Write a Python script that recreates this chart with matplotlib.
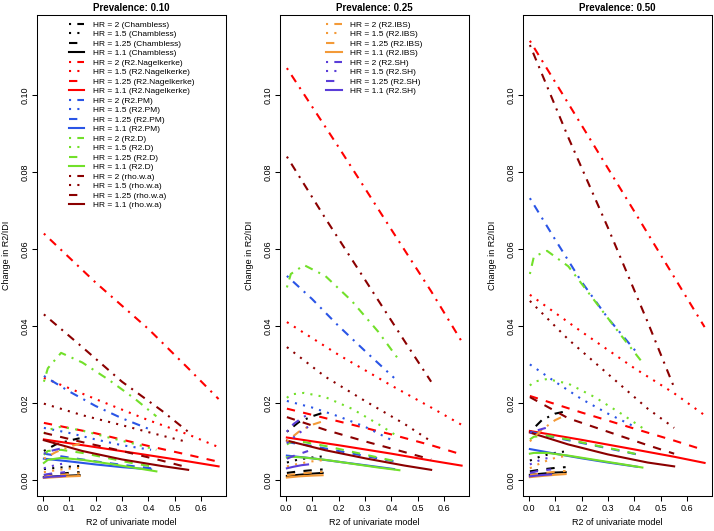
import matplotlib
matplotlib.use("Agg")
import matplotlib.pyplot as plt

plt.rcParams['font.family'] = ['Liberation Sans', 'DejaVu Sans']

# ---- data -------------------------------------------------------------
prevalences = ["0.10", "0.25", "0.50"]
hr_values = ["2", "1.5", "1.25", "1.1"]
methods = ["Chambless", "R2.Nagelkerke", "R2.PM", "R2.D", "rho.w.a", "R2.IBS", "R2.SH"]

# x (R2 of univariate model) for each method
x_chambless = [0.005, 0.05, 0.10, 0.14]
x_nagelkerke = [0.005, 0.2, 0.4, 0.55, 0.665]
x_pm = [0.005, 0.1, 0.2, 0.3, 0.41]
x_d = [0.005, 0.02, 0.07, 0.15, 0.25, 0.35, 0.43]
x_rho = [0.005, 0.15, 0.3, 0.45, 0.55]
x_ibs = [0.005, 0.05, 0.10, 0.14]
x_sh = [0.005, 0.03, 0.06, 0.085]

# change in R2/IDI, rows are HR = 2, 1.5, 1.25, 1.1
# prevalence 0.10
p10_chambless = [[0.0075, 0.0092, 0.0102, 0.0108], [0.0028, 0.0031, 0.0034, 0.0036],
                 [0.0012, 0.0015, 0.0018, 0.0020], [0.0007, 0.0009, 0.0011, 0.0012]]
p10_nagelkerke = [[0.064, 0.0513, 0.0392, 0.029, 0.021], [0.0265, 0.021, 0.0155, 0.0118, 0.0085],
                  [0.0148, 0.0121, 0.0088, 0.0065, 0.0047], [0.0105, 0.0085, 0.0064, 0.0048, 0.0035]]
p10_pm = [[0.027, 0.023, 0.0192, 0.016, 0.013], [0.0135, 0.0122, 0.0105, 0.009, 0.0078],
          [0.0068, 0.0058, 0.0048, 0.0039, 0.0030], [0.0055, 0.0048, 0.0040, 0.0033, 0.0027]]
p10_d = [[0.0255, 0.029, 0.033, 0.0305, 0.026, 0.021, 0.0165],
         [0.012, 0.013, 0.0138, 0.0128, 0.011, 0.0093, 0.0078],
         [0.0065, 0.0075, 0.0078, 0.0070, 0.0056, 0.0042, 0.0033],
         [0.0044, 0.0052, 0.0057, 0.0052, 0.0042, 0.0031, 0.0022]]
p10_rho = [[0.043, 0.0345, 0.0255, 0.018, 0.0125], [0.0198, 0.0168, 0.0142, 0.0115, 0.0098],
           [0.0122, 0.0098, 0.0075, 0.0050, 0.0032], [0.0103, 0.0075, 0.0053, 0.0036, 0.0026]]
p10_ibs = [[0.0055, 0.0072, 0.0086, 0.0094], [0.0020, 0.0025, 0.0029, 0.0031],
           [0.0009, 0.0012, 0.0015, 0.0017], [0.0005, 0.0007, 0.0009, 0.0010]]
p10_sh = [[0.0068, 0.0075, 0.0080, 0.0083], [0.0030, 0.0035, 0.0040, 0.0043],
          [0.0013, 0.0016, 0.0018, 0.0020], [0.0006, 0.0008, 0.0009, 0.0010]]

# prevalence 0.25
p25_chambless = [[0.0125, 0.0150, 0.0165, 0.0174], [0.0045, 0.0053, 0.0058, 0.0061],
                 [0.0018, 0.0022, 0.0025, 0.0027], [0.0010, 0.0013, 0.0016, 0.0018]]
p25_nagelkerke = [[0.107, 0.0865, 0.065, 0.049, 0.036], [0.041, 0.0325, 0.0245, 0.0188, 0.0143],
                  [0.0185, 0.0152, 0.0118, 0.0090, 0.0066], [0.0110, 0.0090, 0.0068, 0.0050, 0.0037]]
p25_pm = [[0.053, 0.047, 0.040, 0.0335, 0.0265], [0.0205, 0.0188, 0.0165, 0.0138, 0.0100],
          [0.0098, 0.0088, 0.0075, 0.0062, 0.0048], [0.0063, 0.0056, 0.0047, 0.0038, 0.0028]]
p25_d = [[0.050, 0.0535, 0.0558, 0.053, 0.0465, 0.0385, 0.031],
         [0.0213, 0.0222, 0.0226, 0.0215, 0.0185, 0.0145, 0.0110],
         [0.0092, 0.0098, 0.0098, 0.0088, 0.0073, 0.0058, 0.0046],
         [0.0058, 0.0060, 0.0058, 0.0052, 0.0042, 0.0032, 0.0025]]
p25_rho = [[0.084, 0.068, 0.052, 0.036, 0.0255], [0.0345, 0.0268, 0.0205, 0.0145, 0.0100],
           [0.0163, 0.0130, 0.0100, 0.0072, 0.0053], [0.0102, 0.0077, 0.0056, 0.0037, 0.0026]]
p25_ibs = [[0.0100, 0.0125, 0.0143, 0.0152], [0.0035, 0.0042, 0.0048, 0.0051],
           [0.0012, 0.0016, 0.0019, 0.0021], [0.0006, 0.0009, 0.0011, 0.0012]]
p25_sh = [[0.0125, 0.0145, 0.0160, 0.0170], [0.0095, 0.0110, 0.0126, 0.0138],
          [0.0055, 0.0062, 0.0069, 0.0075], [0.0030, 0.0034, 0.0038, 0.0040]]

# prevalence 0.50
p50_chambless = [[0.0124, 0.0155, 0.0172, 0.0178], [0.0050, 0.0062, 0.0070, 0.0074],
                 [0.0022, 0.0027, 0.0031, 0.0033], [0.0013, 0.0016, 0.0019, 0.0020]]
p50_nagelkerke = [[0.1141, 0.0922, 0.0697, 0.0527, 0.0397], [0.0481, 0.0385, 0.029, 0.0225, 0.0168],
                  [0.0218, 0.0175, 0.0133, 0.0102, 0.0077], [0.0127, 0.0104, 0.0079, 0.0060, 0.0044]]
p50_pm = [[0.0732, 0.0625, 0.0515, 0.042, 0.033], [0.030, 0.0255, 0.021, 0.0172, 0.0135],
          [0.0125, 0.0110, 0.0096, 0.0082, 0.0066], [0.0080, 0.0068, 0.0056, 0.0045, 0.0034]]
p50_d = [[0.0535, 0.058, 0.0595, 0.0555, 0.0465, 0.0375, 0.0305],
         [0.0245, 0.0255, 0.0262, 0.025, 0.0215, 0.0172, 0.0135],
         [0.0105, 0.0112, 0.0115, 0.0105, 0.0090, 0.0076, 0.0063],
         [0.0068, 0.0070, 0.0070, 0.0063, 0.0052, 0.0041, 0.0032]]
p50_rho = [[0.113, 0.089, 0.0655, 0.041, 0.024], [0.0465, 0.0365, 0.0275, 0.0185, 0.0135],
           [0.0215, 0.0160, 0.0125, 0.0090, 0.0068], [0.0123, 0.0092, 0.0066, 0.0045, 0.0035]]
p50_ibs = [[0.0100, 0.0130, 0.0155, 0.0168], [0.0030, 0.0045, 0.0057, 0.0062],
           [0.0012, 0.0017, 0.0021, 0.0023], [0.0007, 0.0010, 0.0013, 0.0015]]
p50_sh = [[0.0122, 0.0128, 0.0134, 0.0138], [0.0040, 0.0048, 0.0055, 0.0058],
          [0.0018, 0.0022, 0.0025, 0.0027], [0.0009, 0.0011, 0.0013, 0.0014]]

# ---- styles ------------------------------------------------------------
colours = ["black", "#ff0000", "#2a55e6", "#72e02a", "#8b0000", "#f39a38", "#5a3dd8"]
# R lty 4 (dotdash), 3 (dotted), 2 (dashed), 1 (solid)
line_styles = [(0, (1, 3, 4, 3)), (0, (1, 3)), (0, (4, 4)), '-']

xs = [x_chambless, x_nagelkerke, x_pm, x_d, x_rho, x_ibs, x_sh]
panels = [
    [p10_chambless, p10_nagelkerke, p10_pm, p10_d, p10_rho, p10_ibs, p10_sh],
    [p25_chambless, p25_nagelkerke, p25_pm, p25_d, p25_rho, p25_ibs, p25_sh],
    [p50_chambless, p50_nagelkerke, p50_pm, p50_d, p50_rho, p50_ibs, p50_sh],
]

fig = plt.figure(figsize=(7.14, 5.31), dpi=100)
lefts = [37 / 714, 280 / 714, 523 / 714]
axes = [fig.add_axes([l, 35 / 531, 189 / 714, 481 / 531]) for l in lefts]

for p, ax in enumerate(axes):
    handles = []
    for m, method in enumerate(methods):
        for h, hr in enumerate(hr_values):
            line, = ax.plot(xs[m], panels[p][m][h], color=colours[m],
                            linestyle=line_styles[h], linewidth=1.5,
                            label="HR = %s (%s)" % (hr, method))
            handles.append(line)

    ax.set_xlim(-0.021, 0.693)
    ax.set_ylim(-0.0042, 0.1208)
    ax.set_xticks([0.0, 0.1, 0.2, 0.3, 0.4, 0.5, 0.6])
    ax.set_xticklabels(["0.0", "0.1", "0.2", "0.3", "0.4", "0.5", "0.6"])
    ax.set_yticks([0.0, 0.02, 0.04, 0.06, 0.08, 0.10])
    ax.set_yticklabels(["0.00", "0.02", "0.04", "0.06", "0.08", "0.10"])
    ax.tick_params(direction='out', length=3.5, width=0.75, labelsize=6.5, pad=2)
    ax.tick_params(axis='y', labelrotation=90)
    for lab in ax.get_yticklabels():
        lab.set_va('center')
    for s in ax.spines.values():
        s.set_linewidth(0.75)

    ax.set_xlabel("R2 of univariate model", fontsize=6.5, labelpad=4)
    ax.set_ylabel("Change in R2/IDI", fontsize=6.5, labelpad=7)
    ax.set_title("Prevalence: " + prevalences[p], fontsize=7, fontweight='bold', pad=3)

    if p == 0:
        ax.legend(handles=handles[:20], loc='upper center', frameon=False,
                  fontsize=6, labelspacing=0.2, handlelength=1.9,
                  handletextpad=1.0, borderaxespad=0.3)
    elif p == 1:
        ax.legend(handles=handles[20:], loc='upper center', frameon=False,
                  fontsize=6, labelspacing=0.2, handlelength=1.9,
                  handletextpad=1.0, borderaxespad=0.3)

fig.savefig("out.png", dpi=100)
